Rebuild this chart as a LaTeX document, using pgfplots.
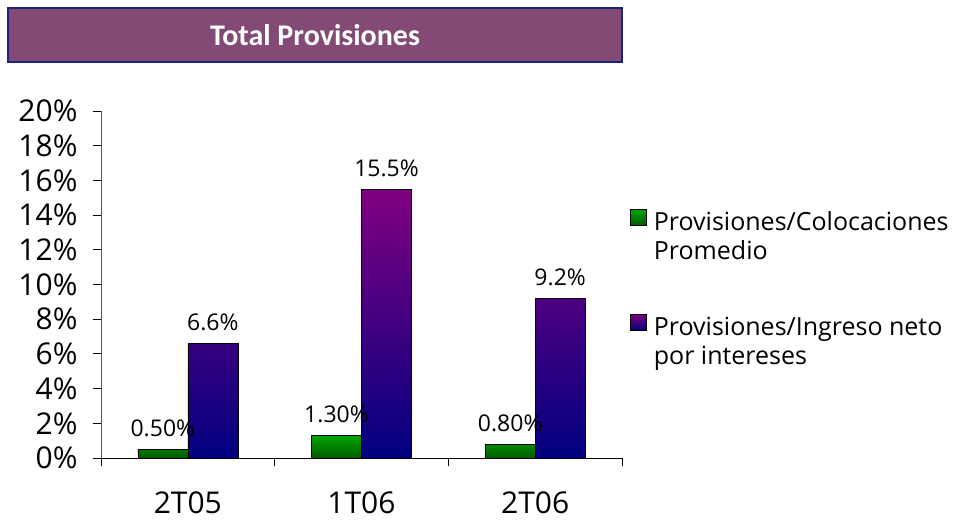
\documentclass[border=0pt]{standalone}
\usepackage{fontspec}
\setmainfont{Open Sans}
\newfontfamily\titlefont{Carlito}
\usepackage{pgfplots}
\pgfplotsset{compat=1.18}
\definecolor{titlefill}{HTML}{834A75}
\definecolor{titleborder}{HTML}{1A237E}
\definecolor{gtop}{HTML}{00A800}
\definecolor{gbot}{HTML}{005A00}
\definecolor{ptop}{HTML}{800080}
\definecolor{pbot}{HTML}{000080}
\begin{document}
\begin{tikzpicture}[x=1pt,y=1pt]
\path[use as bounding box] (0,0) rectangle (955,524);
\draw[titleborder, line width=2pt, fill=titlefill] (8,462) rectangle (622,516);
\node[text=white, font=\titlefont\bfseries\fontsize{30}{36}\selectfont] at (315,489) {Total Provisiones};
\begin{axis}[
  at={(101pt,66pt)}, anchor=south west,
  scale only axis, width=521pt, height=347pt,
  xmin=-0.5, xmax=2.5, ymin=0, ymax=20,
  axis x line*=bottom, axis y line*=left,
  y axis line style={gray!70!black, line width=0.8pt},
  x axis line style={black, line width=0.8pt},
  /pgf/number format/assume math mode=true,
  ybar=0pt, bar width=50pt,
  ytick={0,2,...,20},
  yticklabel={\pgfmathprintnumber{\tick}\%},
  yticklabel style={font=\fontsize{30}{34}\selectfont, xshift=-12pt},
  tick align=outside, major tick length=8pt,
  tick style={black, line width=0.8pt},
  xtick={-0.5,0.5,1.5,2.5}, xticklabels={,,,},
  extra x ticks={0,1,2},
  extra x tick labels={2T05,1T06,2T06},
  extra x tick style={major tick length=0pt},
  xticklabel style={font=\fontsize{30}{34}\selectfont, yshift=-30pt},
  legend style={at={(1.0154,0.7184)}, anchor=north west, draw=none, fill=none,
    inner sep=0pt, row sep=82pt, nodes={inner sep=0pt},
    font=\fontsize{25}{29}\selectfont, cells={anchor=west}},
  legend image code/.code={\draw[#1, draw=black, line width=0.6pt] (0pt,-4pt) rectangle (16pt,12pt);},
  nodes near coords style={anchor=base, yshift=13pt, font=\fontsize{23}{27}\selectfont, black},
]
\addplot[draw=black, line width=0.6pt, top color=gtop, bottom color=gbot,
  nodes near coords={\pgfmathprintnumber[fixed,fixed zerofill,precision=2]{\pgfplotspointmeta}\%}]
  coordinates {(0,0.5) (1,1.3) (2,0.8)};
\addplot[draw=black, line width=0.6pt, top color=ptop, bottom color=pbot,
  nodes near coords={\pgfmathprintnumber[fixed,fixed zerofill,precision=1]{\pgfplotspointmeta}\%}]
  coordinates {(0,6.6) (1,15.5) (2,9.2)};
\legend{{\begin{tabular}[t]{@{\hspace{7pt}}l@{}}Provisiones/Colocaciones\\Promedio\end{tabular}},
        {\begin{tabular}[t]{@{\hspace{7pt}}l@{}}Provisiones/Ingreso neto\\por intereses\end{tabular}}}
\end{axis}
\end{tikzpicture}
\end{document}
